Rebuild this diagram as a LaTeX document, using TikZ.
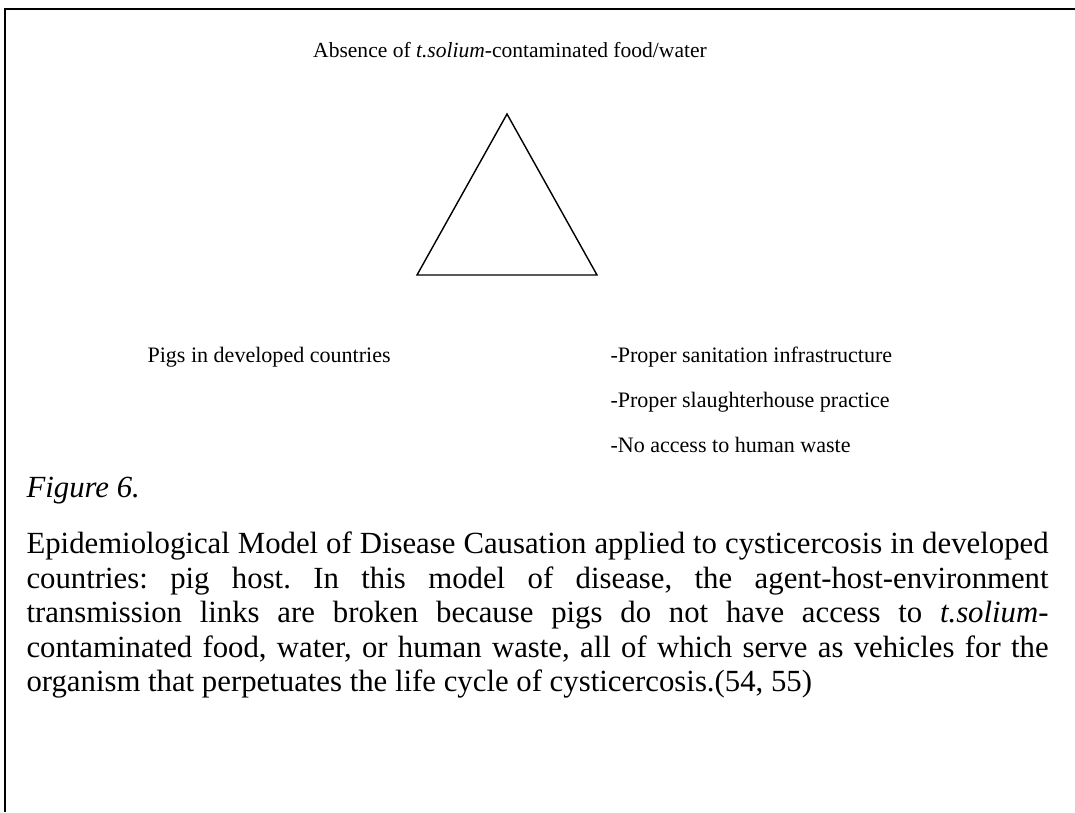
\documentclass[tikz,border=0pt]{standalone}
\usepackage{fontspec}
\setmainfont{Liberation Serif}
\frenchspacing
\begin{document}
\begin{tikzpicture}[x=0.39pt,y=-0.39pt,
  framerule/.style={line width=0.78pt},
  tri/.style={line width=0.55pt, line join=miter},
  lbl/.style={font=\fontsize{8.6}{10.3}\selectfont, inner sep=0pt, anchor=base west},
  captxt/.style={font=\fontsize{12}{13.8}\selectfont, anchor=base west, inner sep=0pt}]
  \useasboundingbox (0,0) rectangle (1075,812);

  % open frame: left and top rules only
  \coordinate (fbl) at (5,812);
  \coordinate (ftl) at (5,9);
  \coordinate (ftr) at (1075,9);
  \draw[framerule] (fbl) -- (ftl) -- (ftr);

  % epidemiological triangle
  \coordinate (apex) at (507,114);
  \coordinate (bl) at (417,275);
  \coordinate (br) at (597,275);
  \draw[tri] (apex) -- (bl) -- (br) -- cycle;

  % corner labels
  \node[lbl, font=\fontsize{8.4}{10}\selectfont, anchor=base] (agent) at (510,57) {Absence of \textit{t.solium}-contaminated food/water};
  \node[lbl] (host) at (147,362) {Pigs in developed countries};
  \node[lbl] (env1) at (610,362) {-Proper sanitation infrastructure};
  \node[lbl] (env2) at (610,407) {-Proper slaughterhouse practice};
  \node[lbl] (env3) at (610,452) {-No access to human waste};

  % caption
  \node[captxt] (fig) at (26,497) {\textit{Figure 6.}};
  \node[captxt] (c1) at (26,553) {\makebox[398.6pt][s]{Epidemiological Model of Disease Causation applied to cysticercosis in developed}};
  \node[captxt] (c2) at (26,588) {\makebox[398.6pt][s]{countries: pig host. In this model of disease, the agent-host-environment}};
  \node[captxt] (c3) at (26,622) {\makebox[398.6pt][s]{transmission links are broken because pigs do not have access to \textit{t.solium}-}};
  \node[captxt] (c4) at (26,657) {\makebox[398.6pt][s]{contaminated food, water, or human waste, all of which serve as vehicles for the}};
  \node[captxt] (c5) at (26,691) {organism that perpetuates the life cycle of cysticercosis.(54, 55)};
\end{tikzpicture}
\end{document}
